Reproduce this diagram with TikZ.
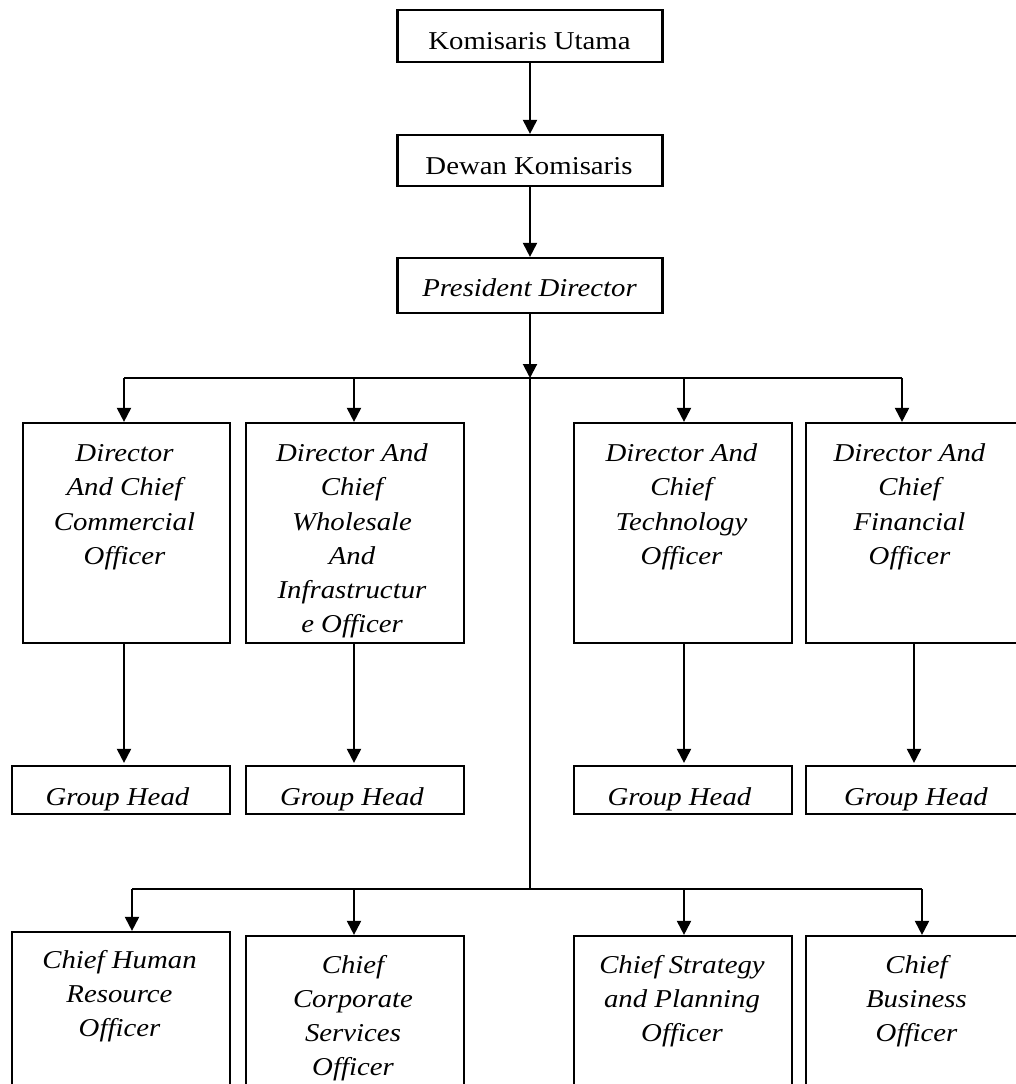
\documentclass[tikz,border=0pt]{standalone}
\usepackage{fontspec}
\setmainfont[FakeStretch=1.12]{Liberation Serif}
\usetikzlibrary{arrows.meta}
\newcommand{\orgsize}{\fontsize{25.7pt}{34.2pt}\selectfont}
\newcommand{\tst}{\rule{0pt}{20pt}}
\begin{document}
\begin{tikzpicture}[x=1pt,y=-1pt,
  ob/.style={draw, line width=2.2pt, inner sep=0pt, rectangle},
  lab/.style={inner sep=0pt, font=\orgsize},
  ilab/.style={inner sep=0pt, font=\orgsize\itshape, align=center},
  ln/.style={line width=2pt},
  arr/.style={line width=2pt, -{Triangle[width=14pt,length=14pt]}}]
\useasboundingbox (0,0) rectangle (1016,1084);

% top chain
\node[ob, minimum width=265pt, minimum height=52pt] (ku) at (530,36) {};
\node[lab, anchor=base] (kut) at (529.5,49) {Komisaris Utama};
\node[ob, minimum width=265pt, minimum height=51pt] (dk) at (530,160.5) {};
\node[lab, anchor=base] (dkt) at (529,174) {Dewan Komisaris};
\node[ob, minimum width=265pt, minimum height=55pt] (pd) at (530,285.5) {};
\node[ilab, anchor=base] (pdt) at (529.5,296) {President Director};

% bus coordinates
\coordinate (bc) at (530,378);
\coordinate (b1) at (124,378);
\coordinate (b2) at (354,378);
\coordinate (b3) at (684,378);
\coordinate (b4) at (902,378);
\coordinate (lc) at (530,889);
\coordinate (l1) at (132,889);
\coordinate (l2) at (354,889);
\coordinate (l3) at (684,889);
\coordinate (l4) at (922,889);
\coordinate (x1) at (124,0);
\coordinate (x2) at (354,0);
\coordinate (x3) at (684,0);
\coordinate (x4) at (914,0);

% director boxes
\node[ob, minimum width=207pt, minimum height=220pt] (d1) at (126.5,533) {};
\node[ob, minimum width=218pt, minimum height=220pt] (d2) at (355,533) {};
\node[ob, minimum width=218pt, minimum height=220pt] (d3) at (683,533) {};
\node[ob, minimum width=218pt, minimum height=220pt] (d4) at (915,533) {};
\node[ilab, anchor=north] (d1t) at (124.5,441.5) {\tst Director\\And Chief\\Commercial\\Officer};
\node[ilab, anchor=north] (d2t) at (352,441.5) {\tst Director And\\Chief\\Wholesale\\And\\Infrastructur\\e Officer};
\node[ilab, anchor=north] (d3t) at (681.5,441.5) {\tst Director And\\Chief\\Technology\\Officer};
\node[ilab, anchor=north] (d4t) at (909.5,441.5) {\tst Director And\\Chief\\Financial\\Officer};

% group heads
\node[ob, minimum width=218pt, minimum height=48pt] (g1) at (121,790) {};
\node[ob, minimum width=218pt, minimum height=48pt] (g2) at (355,790) {};
\node[ob, minimum width=218pt, minimum height=48pt] (g3) at (683,790) {};
\node[ob, minimum width=218pt, minimum height=48pt] (g4) at (915,790) {};
\node[ilab, anchor=base] (g1t) at (117.5,805) {Group Head};
\node[ilab, anchor=base] (g2t) at (352,805) {Group Head};
\node[ilab, anchor=base] (g3t) at (679.5,805) {Group Head};
\node[ilab, anchor=base] (g4t) at (916,805) {Group Head};

% chief boxes
\node[ob, minimum width=218pt, minimum height=168pt] (c1) at (121,1016) {};
\node[ob, minimum width=218pt, minimum height=164pt] (c2) at (355,1018) {};
\node[ob, minimum width=218pt, minimum height=164pt] (c3) at (683,1018) {};
\node[ob, minimum width=218pt, minimum height=164pt] (c4) at (915,1018) {};
\node[ilab, anchor=north] (c1t) at (119.5,948) {\tst Chief Human\\Resource\\Officer};
\node[ilab, anchor=north] (c2t) at (353,953) {\tst Chief\\Corporate\\Services\\Officer};
\node[ilab, anchor=north] (c3t) at (682,953) {\tst Chief Strategy\\and Planning\\Officer};
\node[ilab, anchor=north] (c4t) at (916.5,953) {\tst Chief\\Business\\Officer};

% connectors
\draw[arr] (ku) -- (dk);
\draw[arr] (dk) -- (pd);
\draw[arr] (pd) -- (bc);
\draw[ln] (b1) -- (b4);
\draw[ln] (bc) -- (lc);
\draw[ln] (l1) -- (l4);
\draw[arr] (b1) -- (b1 |- d1.north);
\draw[arr] (b2) -- (b2 |- d2.north);
\draw[arr] (b3) -- (b3 |- d3.north);
\draw[arr] (b4) -- (b4 |- d4.north);
\draw[arr, shorten >=2pt] (x1 |- d1.south) -- (x1 |- g1.north);
\draw[arr, shorten >=2pt] (x2 |- d2.south) -- (x2 |- g2.north);
\draw[arr, shorten >=2pt] (x3 |- d3.south) -- (x3 |- g3.north);
\draw[arr, shorten >=2pt] (x4 |- d4.south) -- (x4 |- g4.north);
\draw[arr] (l1) -- (l1 |- c1.north);
\draw[arr] (l2) -- (l2 |- c2.north);
\draw[arr] (l3) -- (l3 |- c3.north);
\draw[arr] (l4) -- (l4 |- c4.north);
\end{tikzpicture}
\end{document}
